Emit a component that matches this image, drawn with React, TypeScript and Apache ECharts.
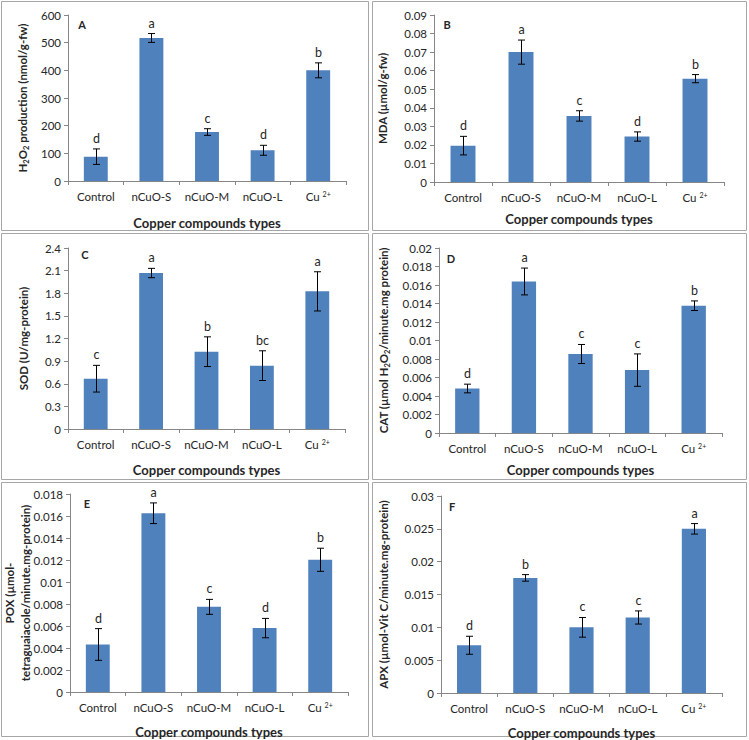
import React, { useEffect, useRef } from "react";
import * as echarts from "echarts";

const categories = ["Control", "nCuO-S", "nCuO-M", "nCuO-L", "Cu2+"];

const h2o2Values = [88, 517, 177, 111, 400];
const h2o2Errors = [28, 16, 12, 18, 27];
const h2o2Letters = ["d", "a", "c", "d", "b"];

const mdaValues = [0.0196, 0.07, 0.0356, 0.0245, 0.0557];
const mdaErrors = [0.005, 0.0065, 0.0028, 0.0025, 0.0022];
const mdaLetters = ["d", "a", "c", "d", "b"];

const sodValues = [0.667, 2.068, 1.025, 0.84, 1.825];
const sodErrors = [0.177, 0.062, 0.197, 0.197, 0.26];
const sodLetters = ["c", "a", "b", "bc", "a"];

const catValues = [0.00481, 0.01638, 0.00854, 0.0068, 0.01376];
const catErrors = [0.00047, 0.00145, 0.00103, 0.00175, 0.00052];
const catLetters = ["d", "a", "c", "c", "b"];

const poxValues = [0.00432, 0.01625, 0.00774, 0.00581, 0.01202];
const poxErrors = [0.00144, 0.00094, 0.00068, 0.00088, 0.00105];
const poxLetters = ["d", "a", "c", "d", "b"];

const apxValues = [0.00727, 0.01753, 0.01, 0.0115, 0.025];
const apxErrors = [0.00137, 0.0005, 0.0015, 0.001, 0.0008];
const apxLetters = ["d", "b", "c", "c", "a"];

const xTitle = "Copper compounds types";

const FONT = "Lato";
const TEXT = "#262626";
const AXIS = "#868686";
const BAR = "#4F81BD";

const panels = [
  {
    tag: "A", values: h2o2Values, errors: h2o2Errors, letters: h2o2Letters,
    max: 600, interval: 100,
    yName: "H{sub|2}O{sub|2} production (nmol/g-fw)",
    grid: { left: 68, top: 15, width: 278, height: 166 },
    yGap: 38, xGap: 35, tagPos: [82, 24],
    box: [1, 1, 367, 229],
  },
  {
    tag: "B", values: mdaValues, errors: mdaErrors, letters: mdaLetters,
    max: 0.09, interval: 0.01,
    yName: "MDA (µmol/g-fw)",
    grid: { left: 434, top: 15, width: 290, height: 167 },
    yGap: 44, xGap: 30, tagPos: [447, 24],
    box: [372, 1, 374, 229],
  },
  {
    tag: "C", values: sodValues, errors: sodErrors, letters: sodLetters,
    max: 2.4, interval: 0.3,
    yName: "SOD (U/mg-protein)",
    grid: { left: 68, top: 248, width: 277, height: 181 },
    yGap: 37, xGap: 34, tagPos: [85, 254],
    box: [1, 233, 367, 246],
  },
  {
    tag: "D", values: catValues, errors: catErrors, letters: catLetters,
    max: 0.02, interval: 0.002,
    yName: "CAT (µmol H{sub|2}O{sub|2}/minute.mg protein)",
    grid: { left: 439, top: 248, width: 283, height: 185 },
    yGap: 48, xGap: 30, tagPos: [451, 258],
    box: [372, 233, 374, 246],
  },
  {
    tag: "E", values: poxValues, errors: poxErrors, letters: poxLetters,
    max: 0.018, interval: 0.002,
    yName: "POX (µmol-\ntetraguaiacole/minute.mg-protein)",
    grid: { left: 70, top: 494, width: 278, height: 198 },
    yGap: 37, xGap: 33, tagPos: [87, 503],
    box: [1, 482, 367, 254],
  },
  {
    tag: "F", values: apxValues, errors: apxErrors, letters: apxLetters,
    max: 0.03, interval: 0.005,
    yName: "APX (µmol-Vit C/minute.mg-protein)",
    grid: { left: 441, top: 496, width: 281, height: 198 },
    yGap: 50, xGap: 33, tagPos: [452, 506],
    box: [372, 482, 374, 254],
  },
];

function buildOption() {
  const grid: any[] = [];
  const xAxis: any[] = [];
  const yAxis: any[] = [];
  const series: any[] = [];
  const graphic: any[] = [];

  panels.forEach((p, k) => {
    grid.push({ ...p.grid });
    xAxis.push({
      type: "category",
      gridIndex: k,
      data: categories,
      boundaryGap: true,
      axisLine: { show: true, lineStyle: { color: AXIS, width: 1 } },
      axisTick: { show: true, alignWithLabel: false, length: 4, lineStyle: { color: AXIS } },
      axisLabel: {
        show: true,
        interval: 0,
        margin: 9,
        color: TEXT,
        fontFamily: FONT,
        fontSize: 11.5,
        formatter: (v: string) => (v === "Cu2+" ? "Cu {sup|2+}" : v),
        rich: {
          sup: { fontSize: 7, fontFamily: FONT, color: TEXT, verticalAlign: "top", padding: [0, 0, 4, 0] },
        },
      },
      splitLine: { show: false },
      name: xTitle,
      nameLocation: "middle",
      nameGap: p.xGap,
      nameMoveOverlap: false,
      nameTextStyle: { fontFamily: FONT, fontSize: 13, fontWeight: "bold", color: TEXT },
    });
    yAxis.push({
      type: "value",
      gridIndex: k,
      min: 0,
      max: p.max,
      interval: p.interval,
      axisLine: { show: true, lineStyle: { color: AXIS, width: 1 } },
      axisTick: { show: true, length: 4, lineStyle: { color: AXIS } },
      axisLabel: { color: TEXT, fontFamily: FONT, fontSize: 11.5, margin: 7 },
      splitLine: { show: false },
      name: p.yName,
      nameLocation: "middle",
      nameGap: p.yGap,
      nameRotate: 90,
      nameMoveOverlap: false,
      nameTextStyle: {
        fontFamily: FONT,
        fontSize: 11.5,
        fontWeight: "bold",
        color: TEXT,
        lineHeight: 16,
        rich: {
          sub: { fontSize: 7.5, fontWeight: "bold", fontFamily: FONT, color: TEXT, verticalAlign: "bottom", padding: [4, 0, 0, 0] },
        },
      },
    });
    series.push({
      type: "bar",
      xAxisIndex: k,
      yAxisIndex: k,
      data: p.values,
      barWidth: "43%",
      itemStyle: { color: BAR },
      silent: true,
    });
    const letters = p.letters;
    series.push({
      type: "custom",
      xAxisIndex: k,
      yAxisIndex: k,
      z: 5,
      data: p.values.map((v, i) => [i, v, p.errors[i]]),
      encode: { x: 0, y: 1 },
      renderItem: (params: any, api: any) => {
        const i = api.value(0);
        const v = api.value(1);
        const e = api.value(2);
        const top = api.coord([i, v + e]);
        const bot = api.coord([i, v - e]);
        const x = Math.round(top[0]) + 0.5;
        const cap = 3.5;
        const ls = { stroke: "#000", lineWidth: 1 };
        return {
          type: "group",
          children: [
            { type: "line", shape: { x1: x, y1: top[1], x2: x, y2: bot[1] }, style: ls },
            { type: "line", shape: { x1: x - cap, y1: top[1], x2: x + cap, y2: top[1] }, style: ls },
            { type: "line", shape: { x1: x - cap, y1: bot[1], x2: x + cap, y2: bot[1] }, style: ls },
            {
              type: "text",
              x: x,
              y: top[1] - 4,
              style: {
                text: letters[params.dataIndex],
                align: "center",
                verticalAlign: "bottom",
                textAlign: "center",
                textVerticalAlign: "bottom",
                font: `12.5px ${FONT}`,
                fill: TEXT,
              },
            },
          ],
        };
      },
    });
    graphic.push({
      type: "rect",
      shape: { x: p.box[0] + 0.5, y: p.box[1] + 0.5, width: p.box[2], height: p.box[3] },
      style: { fill: "none", stroke: "#a6a6a6", lineWidth: 1 },
      silent: true,
      z: -1,
    });
    graphic.push({
      type: "text",
      x: p.tagPos[0],
      y: p.tagPos[1],
      style: {
        text: p.tag,
        font: `bold 11px ${FONT}`,
        fill: TEXT,
        align: "center",
        verticalAlign: "middle",
        textAlign: "center",
        textVerticalAlign: "middle",
      },
    });
  });

  return {
    animation: false,
    backgroundColor: "#ffffff",
    grid,
    xAxis,
    yAxis,
    series,
    graphic,
  };
}

export default function App() {
  const ref = useRef<HTMLDivElement>(null);
  useEffect(() => {
    if (!ref.current) return;
    const chart = echarts.init(ref.current, null, { renderer: "svg" });
    chart.setOption(buildOption() as any);
    return () => chart.dispose();
  }, []);
  return (
    <div
      ref={ref}
      style={{ position: "fixed", left: 0, top: 0, width: 749, height: 740, background: "#fff" }}
    />
  );
}
